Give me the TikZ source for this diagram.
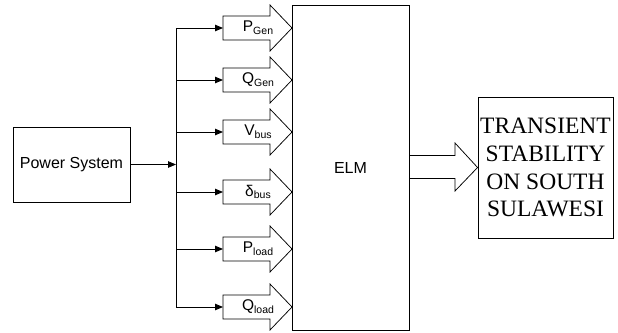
\documentclass[tikz,border=0pt]{standalone}
\usepackage{fontspec}
\setmainfont{Liberation Serif}
\newfontfamily\arialf{Liberation Sans}
\usetikzlibrary{arrows.meta}
\tikzset{
  box/.style={draw, line width=0.9pt, inner sep=0pt},
  conn/.style={line width=0.9pt, -{Triangle[length=8pt,width=6.5pt]}},
  bus/.style={line width=0.9pt},
  barrow/.style={draw, line width=0.75pt, line join=miter},
  lbl/.style={font=\arialf\fontsize{15.5}{15.5}\selectfont, inner sep=0pt},
  sanstxt/.style={font=\arialf\fontsize{16}{16}\selectfont},
  serifbig/.style={font=\fontsize{23.5}{27.8}\selectfont}
}
\newcommand{\mysub}[1]{\raisebox{-0.35ex}{\fontsize{10.5}{10.5}\selectfont #1}}
\begin{document}
\begin{tikzpicture}[x=1pt,y=-1pt]
\useasboundingbox (0,0) rectangle (618,332);
% main boxes
\node[box, sanstxt, minimum width=117pt, minimum height=75pt] (ps) at (71.5,164.5) {Power System};
\node[box, sanstxt, minimum width=117pt, minimum height=325pt] (elm) at (350.5,167.5) {ELM};
\node[box, serifbig, minimum width=135pt, minimum height=141pt, align=center] (ts) at (545.5,167.5) {TRANSIENT\\STABILITY\\ON SOUTH\\SULAWESI};
% bus
\coordinate (bin) at (176,164.5);
\coordinate (b1) at (176,28);
\coordinate (b6) at (176,307);
\draw[conn] (ps.east |- bin) -- (bin);
\draw[bus] (b1) -- (b6);
% input block arrows
\foreach \i/\y/\t in {1/28/{P\mysub{Gen}},2/80/{Q\mysub{Gen}},3/132/{V\mysub{bus}},4/192/{δ\mysub{bus}},5/249/{P\mysub{load}},6/307/{Q\mysub{load}}}{
  \coordinate (s\i) at (176,\y);
  \coordinate (a\i) at (223,\y);
  \draw[barrow] (223,\y-12) -- (270,\y-12) -- (270,\y-23) -- (292,\y) -- (270,\y+23) -- (270,\y+12) -- (223,\y+12) -- cycle;
  \node[lbl] (l\i) at (258,\y) {\t};
  \draw[conn] (s\i) -- (a\i);
}
% output block arrow
\draw[barrow] (elm.east |- 0,155.5) -- (455,155.5) -- (455,143) -- (ts.west) -- (455,191) -- (455,178.5) -- (elm.east |- 0,178.5);
\end{tikzpicture}
\end{document}
